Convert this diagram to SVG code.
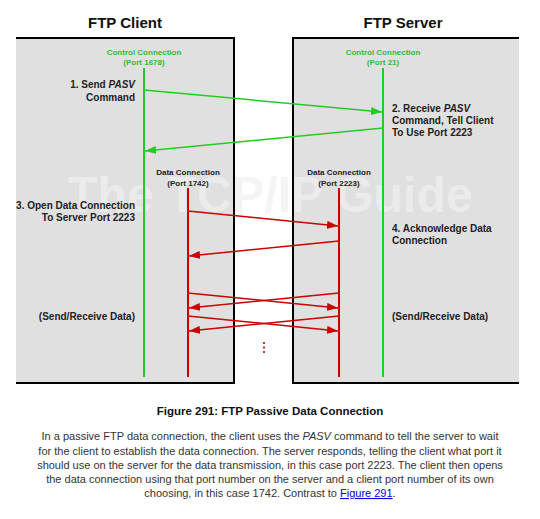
<svg xmlns="http://www.w3.org/2000/svg" width="540" height="519" viewBox="0 0 540 519">
<style>
text{font-family:"Liberation Sans",Arial,sans-serif;}
.title{font-size:15px;font-weight:bold;fill:#111;text-anchor:middle;}
.ctl{font-size:8px;font-weight:bold;fill:#33bb33;text-anchor:middle;}
.dat{font-size:8px;font-weight:bold;fill:#222;text-anchor:middle;}
.lbl{font-size:10px;font-weight:bold;fill:#222;}
.r{text-anchor:end;}
.cap{font-size:11.5px;font-weight:bold;fill:#111;text-anchor:middle;}
.para{font-size:11px;fill:#333;text-anchor:middle;}
.wm{font-size:50px;font-weight:bold;fill:#f0f0f0;opacity:0.7;}
.box{fill:#e0e0e0;}
.edge{stroke:#000;stroke-width:2;fill:none;}
.gl{stroke:#22cc22;stroke-width:2;}
.rl{stroke:#cc0000;stroke-width:2;}
.ga{stroke:#22cc22;stroke-width:1.5;fill:none;}
.ra{stroke:#cc0000;stroke-width:1.5;fill:none;}
</style>
<defs>
<marker id="ag" markerUnits="userSpaceOnUse" markerWidth="12" markerHeight="8" refX="11" refY="4" orient="auto"><path d="M0,0 L11,4 L0,8 z" fill="#22cc22"/></marker>
<marker id="ar" markerUnits="userSpaceOnUse" markerWidth="12" markerHeight="8" refX="11" refY="4" orient="auto"><path d="M0,0 L11,4 L0,8 z" fill="#cc0000"/></marker>
</defs>
<rect width="540" height="519" fill="#fff"/>
<g id="client">
<rect class="box" x="16" y="38" width="218" height="345"/>
<path class="edge" d="M16,38 H234 V383 H16"/>
<text class="title" x="125" y="28">FTP Client</text>
</g>
<g id="server">
<rect class="box" x="293" y="38" width="226" height="345"/>
<path class="edge" d="M519,38 H293 V383 H519"/>
<text class="title" x="403" y="28">FTP Server</text>
</g>
<text class="wm" x="68" y="212" textLength="405" lengthAdjust="spacingAndGlyphs">The TCP/IP Guide</text>
<g id="client-control">
<text class="ctl" x="144" y="55">Control Connection</text>
<text class="ctl" x="144" y="65">(Port 1678)</text>
<line class="gl" x1="144" y1="68" x2="144" y2="377"/>
</g>
<g id="server-control">
<text class="ctl" x="383" y="55">Control Connection</text>
<text class="ctl" x="383" y="65">(Port 21)</text>
<line class="gl" x1="383" y1="68" x2="383" y2="377"/>
</g>
<g id="client-data">
<text class="dat" x="188" y="175">Data Connection</text>
<text class="dat" x="188" y="186">(Port 1742)</text>
<line class="rl" x1="188" y1="188" x2="188" y2="377"/>
</g>
<g id="server-data">
<text class="dat" x="339" y="175">Data Connection</text>
<text class="dat" x="339" y="186">(Port 2223)</text>
<line class="rl" x1="339" y1="188" x2="339" y2="377"/>
</g>
<g id="connectors">
<line class="ga" x1="144" y1="90" x2="382" y2="112" marker-end="url(#ag)"/>
<line class="ga" x1="383" y1="128" x2="145" y2="151" marker-end="url(#ag)"/>
<line class="ra" x1="188" y1="211" x2="338" y2="226" marker-end="url(#ar)"/>
<line class="ra" x1="339" y1="241" x2="189" y2="256" marker-end="url(#ar)"/>
<line class="ra" x1="188" y1="293" x2="338" y2="308" marker-end="url(#ar)"/>
<line class="ra" x1="339" y1="293" x2="189" y2="308" marker-end="url(#ar)"/>
<line class="ra" x1="188" y1="316" x2="338" y2="331" marker-end="url(#ar)"/>
<line class="ra" x1="339" y1="316" x2="189" y2="331" marker-end="url(#ar)"/>
</g>
<g id="dots" fill="#cc0000">
<circle cx="264" cy="343" r="1.1"/>
<circle cx="264" cy="347.5" r="1.1"/>
<circle cx="264" cy="352" r="1.1"/>
</g>
<g id="labels">
<text class="lbl r" x="135" y="88">1. Send <tspan font-style="italic">PASV</tspan></text>
<text class="lbl r" x="135" y="101">Command</text>
<text class="lbl" x="392" y="112">2. Receive <tspan font-style="italic">PASV</tspan></text>
<text class="lbl" x="392" y="124">Command, Tell Client</text>
<text class="lbl" x="392" y="136">To Use Port 2223</text>
<text class="lbl r" x="135" y="209">3. Open Data Connection</text>
<text class="lbl r" x="135" y="221">To Server Port 2223</text>
<text class="lbl" x="392" y="232">4. Acknowledge Data</text>
<text class="lbl" x="392" y="244">Connection</text>
<text class="lbl r" x="135" y="320">(Send/Receive Data)</text>
<text class="lbl" x="392" y="320">(Send/Receive Data)</text>
</g>
<g id="caption">
<text class="cap" x="270" y="415">Figure 291: FTP Passive Data Connection</text>
<text class="para" x="270" y="440">In a passive FTP data connection, the client uses the <tspan font-style="italic">PASV</tspan> command to tell the server to wait</text>
<text class="para" x="270" y="455">for the client to establish the data connection. The server responds, telling the client what port it</text>
<text class="para" x="270" y="469">should use on the server for the data transmission, in this case port 2223. The client then opens</text>
<text class="para" x="270" y="483">the data connection using that port number on the server and a client port number of its own</text>
<text class="para" x="270" y="497">choosing, in this case 1742. Contrast to <tspan fill="#0000ee" text-decoration="underline">Figure 291</tspan>.</text>
</g>
</svg>
